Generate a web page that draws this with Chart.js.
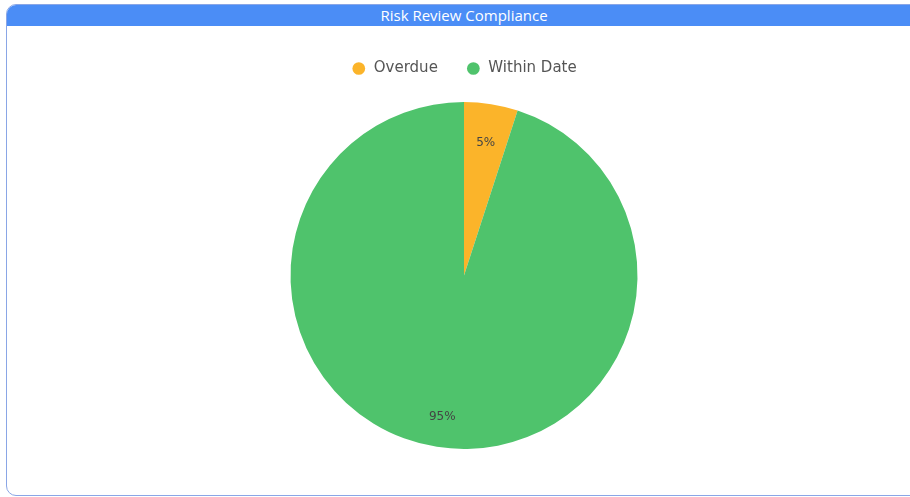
<!DOCTYPE html>
<html>
<head>
<meta charset="utf-8">
<script src="https://cdn.jsdelivr.net/npm/chart.js@4/dist/chart.umd.min.js"></script>
<style>
  body { margin: 0; background: #fff; overflow: hidden; font-family: "Open Sans", sans-serif; }
  .panel {
    position: absolute; left: 6px; top: 4px; width: 914px; height: 490px;
    border: 1px solid #8aa6e6; border-radius: 10px; overflow: hidden; background: #fff;
  }
  .panel-head {
    height: 21px; line-height: 21px; background: #4b8df6; color: #fff;
    text-align: center; font-size: 15px;
  }
  .chart-box { position: relative; width: 914px; height: 469px; }
</style>
</head>
<body>
<div class="panel">
  <div class="panel-head">Risk Review Compliance</div>
  <div class="chart-box"><canvas id="riskChart"></canvas></div>
</div>
<script>
// Chart data
const labels = ["Overdue", "Within Date"];
const values = [5, 95];
const colors = ["#fbb42a", "#4fc36c"];

// Draws the percentage text on each slice
const sliceLabels = {
  id: "sliceLabels",
  afterDatasetsDraw(chart) {
    const ctx = chart.ctx;
    const meta = chart.getDatasetMeta(0);
    const total = values.reduce((a, b) => a + b, 0);
    ctx.save();
    ctx.font = "12px 'DejaVu Sans', sans-serif";
    ctx.fillStyle = "#444";
    ctx.textAlign = "center";
    ctx.textBaseline = "middle";
    meta.data.forEach((arc, i) => {
      const p = arc.getProps(["x", "y", "startAngle", "endAngle", "outerRadius"]);
      const mid = (p.startAngle + p.endAngle) / 2;
      const r = p.outerRadius * 0.8;
      const pct = Math.round(values[i] / total * 100) + "%";
      ctx.fillText(pct, p.x + Math.cos(mid) * r, p.y + Math.sin(mid) * r + 4);
    });
    ctx.restore();
  }
};

// Extra space under the legend, before the pie
const legendGap = {
  id: "legendGap",
  beforeInit(chart) {
    const fit = chart.legend.fit;
    chart.legend.fit = function () {
      fit.bind(chart.legend)();
      this.height += 16;
    };
  }
};

const ctx = document.getElementById("riskChart").getContext("2d");
new Chart(ctx, {
  type: "pie",
  data: {
    labels: labels,
    datasets: [{
      data: values,
      backgroundColor: colors,
      borderWidth: 0
    }]
  },
  options: {
    responsive: true,
    maintainAspectRatio: false,
    animation: false,
    layout: { padding: { top: 7, bottom: 46 } },
    plugins: {
      legend: {
        position: "top",
        labels: {
          usePointStyle: true,
          pointStyle: "circle",
          boxWidth: 15,
          boxHeight: 9,
          padding: 28,
          color: "#555",
          font: { size: 15, family: "'DejaVu Sans', sans-serif" }
        }
      },
      tooltip: { enabled: false }
    }
  },
  plugins: [legendGap, sliceLabels]
});
</script>
</body>
</html>
